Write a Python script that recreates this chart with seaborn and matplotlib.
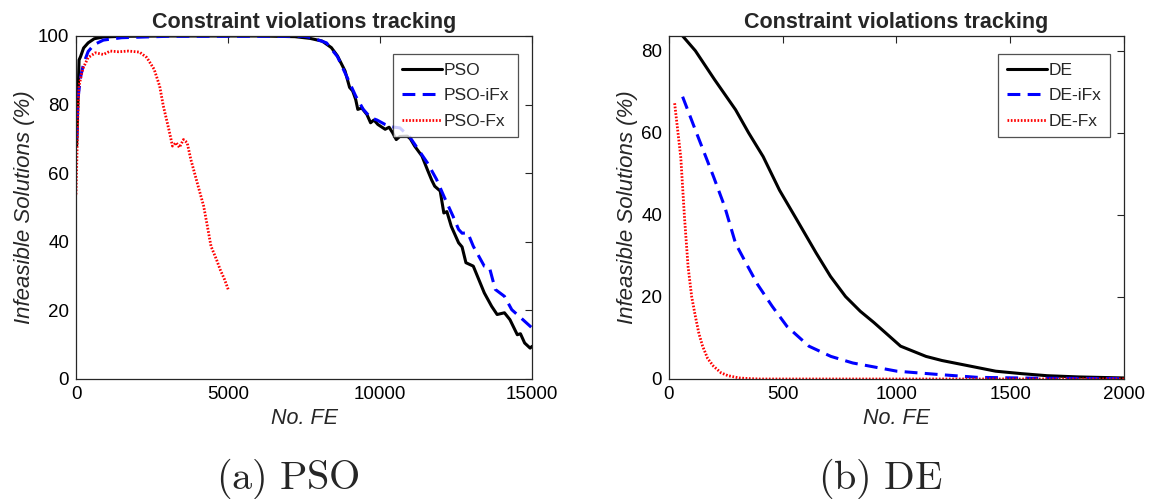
import numpy as np
import pandas as pd
import matplotlib
matplotlib.use("Agg")
import matplotlib.pyplot as plt
import seaborn as sns

# ---- PSO panel data (function evaluations vs. % infeasible solutions) ----
pso_fe = [20, 60, 100, 150, 250, 400, 600, 900, 1500, 3000, 6000, 7200, 7700,
          8100, 8400, 8600, 8850, 9000, 9100, 9200, 9270, 9400, 9570, 9690,
          9800, 9930, 10050, 10170, 10300, 10414, 10535, 10650, 10900, 11000,
          11140, 11380, 11560, 11700, 11800, 11980, 12100, 12200, 12345,
          12586, 12700, 12827, 13069, 13250, 13431, 13672, 13853, 14094,
          14275, 14517, 14620, 14758, 14939, 15000]
pso_val = [68, 80, 93, 94, 96.5, 98, 99.2, 99.7, 99.9, 100, 100, 99.8, 99.3,
           98.5, 96.6, 94.2, 89.8, 85, 84, 81.5, 78.6, 79, 77.1, 74.7,
           75.5, 74.2, 73.5, 72.8, 73.4, 71.8, 69.8, 70.7, 70.8, 70,
           67.9, 65, 61, 58, 56.2, 54.8, 48.4, 48.8, 44.5,
           39.7, 38.5, 33.9, 32.9, 29, 25.1, 21.2, 18.8, 19.3,
           17.3, 12.9, 13.2, 10.5, 9, 9.5]

pso_ifx_fe = [20, 60, 150, 250, 400, 600, 900, 1500, 3000, 7500, 7760, 8240,
              8600, 8900, 9200, 9450, 9690, 9900, 10170, 10400, 10656, 10800,
              10960, 11260, 11560, 11860, 12100, 12400, 12586, 12700, 12888,
              13069, 13431, 13600, 13793, 14094, 14335, 14637, 15000]
pso_ifx_val = [70, 81.5, 88, 92, 95.5, 97.5, 98.8, 99.5, 99.9, 99.9, 99.5, 98,
               94, 88.3, 82.5, 78.6, 76.2, 75.5, 74.2, 73.5, 73.2, 72,
               70.8, 66.9, 63, 58.2, 53.3, 47.5, 43.6, 42.5, 42.6,
               38.7, 32.9, 32.5, 26.1, 24.1, 20.2, 17.8, 14.9]

pso_fx_fe = [0, 60, 97, 217, 398, 640, 900, 1122, 1400, 1726, 2088, 2329,
             2570, 2751, 2872, 3053, 3174, 3294, 3400, 3535, 3656, 3777, 4018,
             4199, 4320, 4441, 4622, 4742, 4887, 5007]
pso_fx_val = [53.8, 76.6, 85.4, 90.3, 93.7, 95.1, 94.6, 95.6, 95.4, 95.6,
              95.3, 93.7, 90.3, 85.4, 79.6, 72.8, 67.9, 68.9, 67.5, 69.8,
              68.9, 64, 56.2, 50.4, 44.6, 38.7, 34.8, 31.9, 29, 26.1]

# ---- DE panel data ----
de_fe = [60, 116, 200, 293, 350, 414, 486, 560, 647, 710, 776, 841, 900, 953,
         1018, 1130, 1200, 1291, 1436, 1550, 1662, 1800, 2000]
de_val = [83.6, 80, 73, 65.6, 60, 54.2, 46, 39, 30.7, 25, 20.1, 16.5, 13.8,
          11.2, 8, 5.5, 4.5, 3.5, 1.9, 1.3, 0.8, 0.5, 0.25]

de_ifx_fe = [60, 116, 196, 245, 293, 341, 390, 454, 519, 615, 712, 808, 1002,
             1195, 1356, 1600, 2000]
de_ifx_val = [68.8, 60.7, 49.3, 42, 33, 28, 23, 17.7, 12.8, 8, 5.5, 3.9, 1.9,
              1.05, 0.4, 0.2, 0.1]

de_fx_fe = [25, 52, 68, 84, 100, 116, 132, 148, 170, 196, 229, 260, 309, 350,
            400, 1000, 2000]
de_fx_val = [67.2, 54, 39.6, 27.4, 20, 15.3, 11, 8, 5, 3.1, 1.5, 0.8, 0.25,
             0.1, 0, 0, 0]

sns.set_theme(style="white")
plt.rcParams["font.family"] = ["Liberation Sans", "DejaVu Sans"]
plt.rcParams["mathtext.fontset"] = "cm"

fig = plt.figure(figsize=(11.5, 4.99), dpi=100)
ax1 = fig.add_axes([0.0661, 0.2405, 0.3965, 0.6874])
ax2 = fig.add_axes([0.5817, 0.2405, 0.3957, 0.6874])

styles = {
    "solid": dict(color="black", linewidth=2.2, linestyle="-"),
    "dash": dict(color="#0000ff", linewidth=2.2, linestyle=(0, (4.2, 2.4))),
    "dot": dict(color="#ff0000", linewidth=2.0, linestyle=(0, (0.6, 0.6))),
}


def draw(ax, series, xlim, ylim, xticks, yticks, caption):
    for name, fe, val, key in series:
        df = pd.DataFrame({"No. FE": fe, "value": val})
        sns.lineplot(data=df, x="No. FE", y="value", ax=ax, label=name,
                     sort=False, estimator=None, **styles[key])
    ax.set_xlim(*xlim)
    ax.set_ylim(*ylim)
    ax.set_xticks(xticks)
    ax.set_yticks(yticks)
    ax.tick_params(direction="in", length=5, width=0.8, top=True, right=True,
                   labelsize=13.5, colors="#262626", labelcolor="black", pad=5)
    for s in ax.spines.values():
        s.set_color("#262626")
        s.set_linewidth(0.9)
    ax.set_title("Constraint violations tracking", fontsize=15.5,
                 fontweight="bold", pad=6)
    ax.set_xlabel("No. FE", fontsize=15.5, style="italic", labelpad=4)
    ax.set_ylabel("Infeasible Solutions (%)", fontsize=16, style="italic",
                  labelpad=2)
    leg = ax.legend(loc="upper right", bbox_to_anchor=(0.969, 0.948),
                    fontsize=12.5, frameon=True, fancybox=False,
                    handlelength=2.3, handletextpad=0.1, borderpad=0.5,
                    labelspacing=0.6, borderaxespad=0)
    leg.get_frame().set_edgecolor("#262626")
    leg.get_frame().set_linewidth(0.9)
    ax.text(0.465, -0.29, caption, transform=ax.transAxes, ha="center",
            va="center", fontsize=29)


draw(ax1,
     [("PSO", pso_fe, pso_val, "solid"),
      ("PSO-iFx", pso_ifx_fe, pso_ifx_val, "dash"),
      ("PSO-Fx", pso_fx_fe, pso_fx_val, "dot")],
     (0, 15000), (0, 100), [0, 5000, 10000, 15000], [0, 20, 40, 60, 80, 100],
     r"$\mathrm{(a)\ PSO}$")
draw(ax2,
     [("DE", de_fe, de_val, "solid"),
      ("DE-iFx", de_ifx_fe, de_ifx_val, "dash"),
      ("DE-Fx", de_fx_fe, de_fx_val, "dot")],
     (0, 2000), (0, 83.6), [0, 500, 1000, 1500, 2000], [0, 20, 40, 60, 80],
     r"$\mathrm{(b)\ DE}$")

fig.savefig("out.png", dpi=100)
